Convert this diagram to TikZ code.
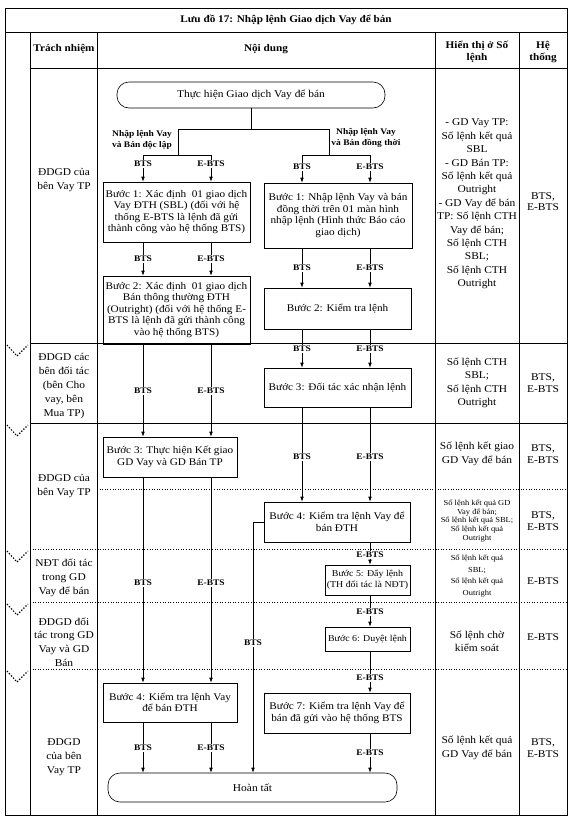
\documentclass[tikz,border=0pt]{standalone}
\usepackage{fontspec}
\setmainfont[FakeStretch=1.1]{Liberation Serif}
\usetikzlibrary{arrows.meta}

\tikzset{
  stepbox/.style={draw, rectangle, align=center, inner sep=1pt, line width=0.6pt,
    font=\fontsize{10.2}{11.5}\selectfont},
  narrow/.style={font=\fontsize{9}{11}\selectfont},
  endbox/.style={draw, rectangle, rounded corners=12pt, line width=0.6pt,
    font=\fontsize{10.4}{11.5}\selectfont},
  lbl/.style={fill=white, inner sep=0.8pt, font=\bfseries\fontsize{8.6}{9.5}\selectfont},
  fork/.style={align=center, font=\bfseries\fontsize{8.6}{11.5}\selectfont},
  head/.style={align=center, font=\bfseries\fontsize{10.2}{12}\selectfont},
  who/.style={align=center, font=\fontsize{10.4}{13.8}\selectfont},
  cell/.style={align=center, font=\fontsize{10.4}{13.4}\selectfont},
  smallcell/.style={align=center, font=\fontsize{7.7}{8.9}\selectfont},
  sys/.style={align=center, font=\fontsize{10.4}{12.5}\selectfont},
  arr/.style={-{Latex[length=5pt,width=3.6pt]}},
  frame/.style={line width=0.8pt},
  dotsep/.style={dotted, line width=0.6pt},
  chev/.style={line width=1.1pt, dash pattern=on 1.3pt off 1.7pt},
}

\begin{document}
\begin{tikzpicture}[x=1pt,y=-1pt,line width=0.6pt]
\useasboundingbox (0,0) rectangle (576,822);

% table frame
\draw[frame] (5,8) rectangle (567,815);
\draw[frame] (5,32) -- (567,32);
\draw[frame] (30,68) -- (567,68);
\foreach \x in {30,97,435,519}
  \draw[frame] (\x,32) -- (\x,815);
\foreach \y in {343,423}
  \draw[frame] (30,\y) -- (567,\y);
\draw[dotsep] (97,489) -- (567,489);
\foreach \y in {549,602,669}
  \draw[dotsep] (30,\y) -- (567,\y);
\foreach \y in {343,423,549,602,669}
  \draw[chev] (7,\y+2) -- (17,\y+13) -- (28,\y+2);

% headings
\node[head] (title) at (286,20) {Lưu đồ 17: Nhập lệnh Giao dịch Vay để bán};
\node[head] (hwho) at (64,49) {Trách nhiệm};
\node[head] (hwhat) at (266,49) {Nội dung};
\node[head] (hshow) at (477,52) {Hiển thị ở Số\\lệnh};
\node[head] (hsys) at (543,52) {Hệ\\thống};

% who
\node[who] (who1) at (64,180) {ĐDGD của\\bên Vay TP};
\node[who] (who2) at (64,386) {ĐDGD các\\bên đối tác\\(bên Cho\\vay, bên\\Mua TP)};
\node[who] (who3) at (64,486) {ĐDGD của\\bên Vay TP};
\node[who] (who4) at (64,578) {NĐT đối tác\\trong GD\\Vay để bán};
\node[who] (who5) at (64,642) {ĐDGD đối\\tác trong GD\\Vay và GD\\Bán};
\node[who] (who6) at (64,757) {ĐDGD\\của bên\\Vay TP};

% shown in
\node[cell] (show1) at (477,204) {- GD Vay TP:\\Số lệnh kết quả\\SBL\\- GD Bán TP:\\Số lệnh kết quả\\Outright\\- GD Vay để bán\\TP: Số lệnh CTH\\Vay để bán;\\Số lệnh CTH\\SBL;\\Số lệnh CTH\\Outright};
\node[cell] (show2) at (477,383) {Số lệnh CTH\\SBL;\\Số lệnh CTH\\Outright};
\node[cell] (show3) at (477,454) {Số lệnh kết giao\\GD Vay để bán};
\node[smallcell] (show4) at (477,521) {Số lệnh kết quả GD\\Vay để bán;\\Số lệnh kết quả SBL;\\Số lệnh kết quả\\Outright};
\node[smallcell, font=\fontsize{7.7}{11.7}\selectfont] (show5) at (477,576) {Số lệnh kết quả\\SBL;\\Số lệnh kết quả\\Outright};
\node[cell] (show6) at (477,641) {Số lệnh chờ\\kiểm soát};
\node[cell] (show7) at (477,748) {Số lệnh kết quả\\GD Vay để bán};

% system
\node[sys, font=\fontsize{10.4}{11}\selectfont] (sys1) at (543,202) {BTS,\\E-BTS};
\node[sys] (sys2) at (543,383) {BTS,\\E-BTS};
\node[sys] (sys3) at (543,454) {BTS,\\E-BTS};
\node[sys] (sys4) at (543,521) {BTS,\\E-BTS};
\node[sys] (sys5) at (543,581) {E-BTS};
\node[sys] (sys6) at (543,637) {E-BTS};
\node[sys] (sys7) at (543,748) {BTS,\\E-BTS};

% flow
\node[endbox, minimum width=268, minimum height=26] (start) at (251,95) {Thực hiện Giao dịch Vay để bán};
\node[stepbox, minimum width=147, minimum height=60] (b1l) at (176.5,212) {Bước 1: Xác định~ 01 giao dịch\\Vay ĐTH (SBL) (đối với hệ\\thống E-BTS là lệnh đã gửi\\thành công vào hệ thống BTS)};
\node[stepbox, minimum width=147, minimum height=68] (b2l) at (176.5,310) {Bước 2: Xác định~ 01 giao dịch\\Bán thông thường ĐTH\\(Outright) (đối với hệ thống E-\\BTS là lệnh đã gửi thành công\\vào hệ thống BTS)};
\node[stepbox, minimum width=134, minimum height=40] (b3l) at (170,457) {Bước 3: Thực hiện Kết giao\\GD Vay và GD Bán TP};
\node[stepbox, minimum width=134, minimum height=39] (b4l) at (170,702.5) {Bước 4: Kiểm tra lệnh Vay\\để bán ĐTH};
\node[stepbox, minimum width=148, minimum height=65] (b1r) at (338,215.5) {Bước 1: Nhập lệnh Vay và bán\\đồng thời trên 01 màn hình\\nhập lệnh (Hình thức Báo cáo\\giao dịch)};
\node[stepbox, minimum width=147, minimum height=41] (b2r) at (337.5,308.5) {Bước 2: Kiểm tra lệnh};
\node[stepbox, minimum width=147, minimum height=39] (b3r) at (337.5,387.5) {Bước 3: Đối tác xác nhận lệnh};
\node[stepbox, minimum width=146, minimum height=40] (b4r) at (337,522) {Bước 4: Kiểm tra lệnh Vay để\\bán ĐTH};
\node[stepbox, narrow, minimum width=85, minimum height=30] (b5) at (367.5,580) {Bước 5: Đẩy lệnh\\(TH đối tác là NĐT)};
\node[stepbox, narrow, minimum width=85, minimum height=24] (b6) at (367.5,639) {Bước 6: Duyệt lệnh};
\node[stepbox, minimum width=146, minimum height=40] (b7) at (337,713) {Bước 7: Kiểm tra lệnh Vay để\\bán đã gửi vào hệ thống BTS};
\node[endbox, minimum width=289, minimum height=29] (finish) at (252.5,787.5) {Hoàn tất};

\node[fork] (model) at (142,140) {Nhập lệnh Vay\\và Bán độc lập};
\node[fork] (moder) at (366,138) {Nhập lệnh Vay\\và Bán đồng thời};

% split
\coordinate (sp) at (251,129);
\coordinate (spl) at (178,129);
\coordinate (spr) at (329,129);
\coordinate (fkl) at (178,155);
\coordinate (fkr) at (329,155);
\coordinate (fkl1) at (143,155);
\coordinate (fkl2) at (211,155);
\coordinate (fkr1) at (302,155);
\coordinate (fkr2) at (370,155);
\coordinate (bk) at (253,522);

\draw (start.south) -- (sp);
\draw (spl) -- (spr);
\draw (spl) -- (fkl);
\draw (spr) -- (fkr);
\draw (fkl1) -- (fkl2);
\draw (fkr1) -- (fkr2);
\foreach \c in {fkl1,fkl2}
  \draw[arr] (\c) -- (\c |- b1l.north);
\foreach \c in {fkr1,fkr2}
  \draw[arr] (\c) -- (\c |- b1r.north);

% connectors
\foreach \a/\b in {b1l/b2l,b2l/b3l,b3l/b4l,b4l/finish} {
  \draw[arr] (\a.south -| fkl1) -- (\b.north -| fkl1);
  \draw[arr] (\a.south -| fkl2) -- (\b.north -| fkl2);
}
\foreach \a/\b in {b1r/b2r,b2r/b3r,b3r/b4r} {
  \draw[arr] (\a.south -| fkr1) -- (\b.north -| fkr1);
  \draw[arr] (\a.south -| fkr2) -- (\b.north -| fkr2);
}
\foreach \a/\b in {b4r/b5,b5/b6,b6/b7,b7/finish}
  \draw[arr] (\a.south -| fkr2) -- (\b.north -| fkr2);
\draw[arr] (b4r.west) -| (finish.north -| bk);

% system labels on the lines
\foreach \x/\y/\t in {143/164/BTS, 211/164/E-BTS, 302/167/BTS, 370/167/E-BTS,
    143/259/BTS, 211/259/E-BTS, 302/268/BTS, 370/268/E-BTS,
    302/349/BTS, 370/349/E-BTS, 143/391/BTS, 211/391/E-BTS,
    302/457/BTS, 370/457/E-BTS, 370/555/E-BTS, 143/583/BTS, 211/583/E-BTS,
    370/612/E-BTS, 253/643/BTS, 370/678/E-BTS,
    143/748/BTS, 211/748/E-BTS, 370/753/E-BTS}
  \node[lbl] (t\x\y) at (\x,\y) {\t};
\end{tikzpicture}
\end{document}
